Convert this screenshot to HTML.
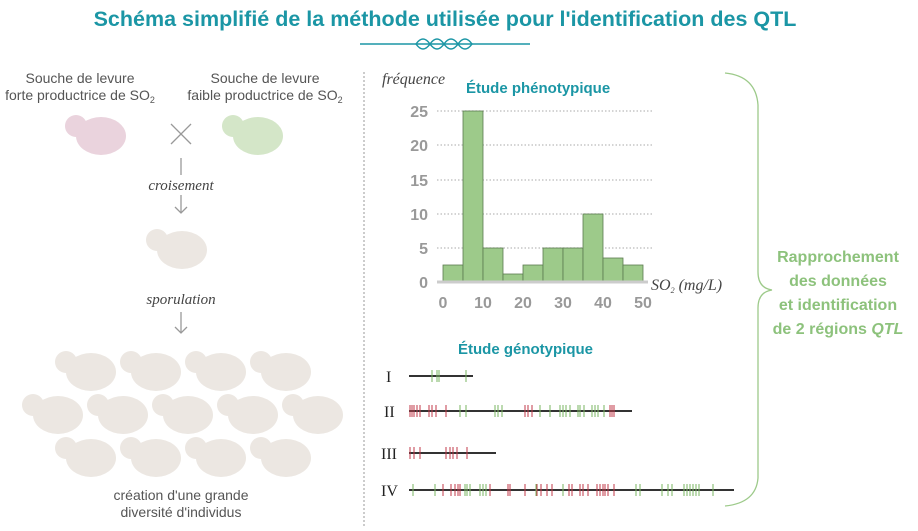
<!DOCTYPE html>
<html><head><meta charset="utf-8"><style>
html,body{margin:0;padding:0;background:#fff}
svg{display:block;font-family:"Liberation Sans",sans-serif}
</style></head><body>
<svg width="918" height="531" viewBox="0 0 918 531" xmlns="http://www.w3.org/2000/svg">
<defs>
<g id="b"><circle cx="11" cy="12" r="11"/><ellipse cx="36" cy="22" rx="25" ry="19"/></g>
</defs>
<text x="445" y="26" text-anchor="middle" font-size="21.5" font-weight="bold" fill="#1b96a5">Schéma simplifié de la méthode utilisée pour l'identification des QTL</text>
<g stroke="#1b96a5" stroke-width="1.5" fill="none">
<line x1="360" y1="44" x2="530" y2="44"/>
<path d="M416 44 q7 -10 14 0 q7 10 14 0 q7 -10 14 0 q7 10 14 0 M416 44 q7 10 14 0 q7 -10 14 0 q7 10 14 0 q7 -10 14 0"/>
</g>
<g font-size="14" fill="#555" text-anchor="middle">
<text x="80" y="83">Souche de levure</text>
<text x="80" y="100">forte productrice de SO<tspan font-size="9" dy="3">2</tspan></text>
<text x="265" y="83">Souche de levure</text>
<text x="265" y="100">faible productrice de SO<tspan font-size="9" dy="3">2</tspan></text>
</g>
<use href="#b" x="65" y="114" fill="#ead3dd"/>
<use href="#b" x="222" y="114" fill="#d4e6c8"/>
<g stroke="#999" stroke-width="1.3" fill="none">
<line x1="171" y1="124" x2="191" y2="144"/><line x1="191" y1="124" x2="171" y2="144"/>
<line x1="181" y1="158" x2="181" y2="175"/>
<line x1="181" y1="195" x2="181" y2="213"/><path d="M175 207 l6 6 l6 -6"/>
<line x1="181" y1="312" x2="181" y2="333"/><path d="M175 327 l6 6 l6 -6"/>
</g>
<text x="181" y="190" text-anchor="middle" font-family="Liberation Serif,serif" font-style="italic" font-size="15" fill="#444">croisement</text>
<use href="#b" x="146" y="228" fill="#ece7e2"/>
<text x="181" y="304" text-anchor="middle" font-family="Liberation Serif,serif" font-style="italic" font-size="15" fill="#444">sporulation</text>
<g fill="#ece7e2">
<use href="#b" x="55" y="350"/><use href="#b" x="120" y="350"/><use href="#b" x="185" y="350"/><use href="#b" x="250" y="350"/>
<use href="#b" x="22" y="393"/><use href="#b" x="87" y="393"/><use href="#b" x="152" y="393"/><use href="#b" x="217" y="393"/><use href="#b" x="282" y="393"/>
<use href="#b" x="55" y="436"/><use href="#b" x="120" y="436"/><use href="#b" x="185" y="436"/><use href="#b" x="250" y="436"/>
</g>
<g font-size="14" fill="#555" text-anchor="middle">
<text x="181" y="500">création d'une grande</text>
<text x="181" y="517">diversité d'individus</text>
</g>
<line x1="364" y1="72" x2="364" y2="526" stroke="#ccc" stroke-width="2" stroke-dasharray="2,2"/>
<text x="382" y="84" font-family="Liberation Serif,serif" font-style="italic" font-size="16" fill="#444">fréquence</text>
<text x="466" y="93" font-size="15" font-weight="bold" fill="#1b96a5">Étude phénotypique</text>
<g stroke="#bbb" stroke-width="1.2" stroke-dasharray="1.5,2">
<line x1="437" y1="111" x2="652" y2="111"/><line x1="437" y1="145" x2="652" y2="145"/><line x1="437" y1="180" x2="652" y2="180"/><line x1="437" y1="214" x2="652" y2="214"/><line x1="437" y1="248" x2="652" y2="248"/>
</g>
<g fill="#9dca8a" stroke="#5c7a50" stroke-width="0.8">
<rect x="443" y="265" width="20" height="17"/>
<rect x="463" y="111" width="20" height="171"/>
<rect x="483" y="248" width="20" height="34"/>
<rect x="503" y="274" width="20" height="8"/>
<rect x="523" y="265" width="20" height="17"/>
<rect x="543" y="248" width="20" height="34"/>
<rect x="563" y="248" width="20" height="34"/>
<rect x="583" y="214" width="20" height="68"/>
<rect x="603" y="258" width="20" height="24"/>
<rect x="623" y="265" width="20" height="17"/>
</g>
<line x1="437" y1="282" x2="648" y2="282" stroke="#ccc" stroke-width="3"/>
<g font-size="16" font-weight="bold" fill="#999" text-anchor="end">
<text x="428" y="117">25</text><text x="428" y="151">20</text><text x="428" y="186">15</text><text x="428" y="220">10</text><text x="428" y="254">5</text><text x="428" y="288">0</text>
</g>
<g font-size="16" font-weight="bold" fill="#999" text-anchor="middle">
<text x="443" y="308">0</text><text x="483" y="308">10</text><text x="523" y="308">20</text><text x="563" y="308">30</text><text x="603" y="308">40</text><text x="643" y="308">50</text>
</g>
<text x="651" y="290" font-family="Liberation Serif,serif" font-style="italic" font-size="16" fill="#444">SO<tspan font-size="8" dy="3">2</tspan><tspan dy="-3"> (mg/L)</tspan></text>
<text x="458" y="354" font-size="15" font-weight="bold" fill="#1b96a5">Étude génotypique</text>
<g font-family="Liberation Serif,serif" font-size="16" fill="#222">
<text x="386" y="382">I</text><text x="384" y="417">II</text><text x="381" y="459">III</text><text x="381" y="496">IV</text>
</g>
<g stroke="#333" stroke-width="2">
<line x1="409" y1="376" x2="473" y2="376"/><line x1="409" y1="411" x2="632" y2="411"/><line x1="409" y1="453" x2="496" y2="453"/><line x1="409" y1="490" x2="734" y2="490"/>
</g>
<g stroke="#7ab560" stroke-width="1">
<path d="M432 370v12M437 370v12M439 370v12M466 370v12"/>
<path d="M460 405v12M466 405v12M495 405v12M498 405v12M502 405v12M540 405v12M550 405v12M560 405v12M563 405v12M566 405v12M570 405v12M578 405v12M580 405v12M584 405v12M592 405v12M595 405v12M598 405v12M604 405v12"/>
<path d="M413 484v12M435 484v12M465 484v12M467 484v12M470 484v12M480 484v12M483 484v12M486 484v12M536 484v12M541 484v12M563 484v12M636 484v12M640 484v12M662 484v12M668 484v12M672 484v12M684 484v12M687 484v12M690 484v12M693 484v12M696 484v12M699 484v12M713 484v12"/>
</g>
<g stroke="#c0394a" stroke-width="1">
<path d="M410 405v12M412 405v12M414 405v12M417 405v12M420 405v12M429 405v12M432 405v12M436 405v12M446 405v12M525 405v12M528 405v12M532 405v12M610 405v12M612 405v12M614 405v12"/>
<path d="M410 447v12M414 447v12M420 447v12M446 447v12M450 447v12M453 447v12M457 447v12M467 447v12"/>
<path d="M443 484v12M451 484v12M455 484v12M458 484v12M460 484v12M490 484v12M508 484v12M510 484v12M525 484v12M537 484v12M541 484v12M547 484v12M552 484v12M569 484v12M572 484v12M580 484v12M583 484v12M588 484v12M597 484v12M600 484v12M603 484v12M605 484v12M608 484v12M614 484v12"/>
</g>
<path d="M725 73 Q756 76 758 105 L758 272 Q758 288 772 290 Q758 292 758 308 L758 478 Q756 503 725 506" fill="none" stroke="#9dca8a" stroke-width="1.3"/>
<g font-size="16" font-weight="bold" fill="#8dc27c" text-anchor="middle">
<text x="838" y="262">Rapprochement</text>
<text x="838" y="286">des données</text>
<text x="838" y="310">et identification</text>
<text x="838" y="334">de 2 régions <tspan font-style="italic">QTL</tspan></text>
</g>
</svg>
</body></html>
